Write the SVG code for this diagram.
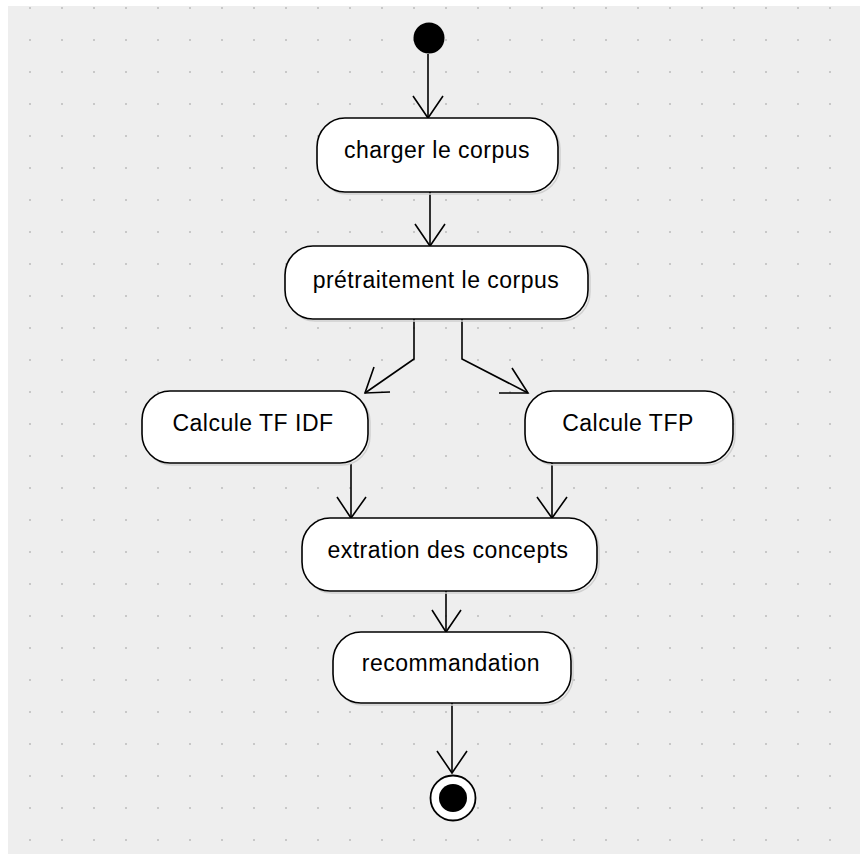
<svg xmlns="http://www.w3.org/2000/svg" width="860" height="854" viewBox="0 0 860 854">
<style>
.node{fill:#ffffff;stroke:#000000;stroke-width:1.6}
.shadow{fill:none;stroke:#d0d0d0;stroke-width:1.5}
.lbl{font-family:"Liberation Sans",Arial,sans-serif;font-size:23px;fill:#000000;text-anchor:middle;letter-spacing:0.5px}
.edge{fill:none;stroke:#000000;stroke-width:1.6}
</style>
<defs>
<pattern id="dots" patternUnits="userSpaceOnUse" x="29" y="7" width="32" height="32">
<rect x="0" y="0" width="2" height="2" fill="#c8c8c8"/>
</pattern>
</defs>
<rect x="8" y="6" width="852" height="848" fill="#eeeeee"/>
<rect x="8" y="6" width="852" height="848" fill="url(#dots)"/>

<g id="connectors">
<path class="edge" d="M428,54 V118"/>
<path class="edge" d="M413,96 L428,118 L443,96"/>
<path class="edge" d="M430,192 V246"/>
<path class="edge" d="M415,224 L430,246 L445,224"/>
<path class="edge" d="M414,319 V359 L365,393"/>
<path class="edge" d="M374,367 L365,393 L390,392"/>
<path class="edge" d="M462,319 V359 L528,393"/>
<path class="edge" d="M512,368 L528,393 L499,393"/>
<path class="edge" d="M351,463 V518"/>
<path class="edge" d="M337,497 L351,518 L366,497"/>
<path class="edge" d="M552,463 V518"/>
<path class="edge" d="M537,497 L552,518 L567,497"/>
<path class="edge" d="M446,591 V632"/>
<path class="edge" d="M432,610 L446,632 L461,610"/>
<path class="edge" d="M452,703 V773"/>
<path class="edge" d="M437,751 L452,773 L467,751"/>
</g>

<g id="start">
<circle cx="429" cy="38" r="15.5" fill="#000000"/>
</g>

<g id="charger">
<rect class="shadow" x="319" y="120" width="241" height="74" rx="28" ry="29"/>
<rect class="node" x="317" y="118" width="241" height="74" rx="28" ry="29"/>
<text class="lbl" x="437" y="158">charger le corpus</text>
</g>

<g id="pretraitement">
<rect class="shadow" x="287" y="248" width="303" height="73" rx="28" ry="29"/>
<rect class="node" x="285" y="246" width="303" height="73" rx="28" ry="29"/>
<text class="lbl" x="436" y="288">prétraitement le corpus</text>
</g>

<g id="tfidf">
<rect class="shadow" x="144" y="393" width="226" height="72" rx="28" ry="29"/>
<rect class="node" x="142" y="391" width="226" height="72" rx="28" ry="29"/>
<text class="lbl" x="253" y="431">Calcule TF IDF</text>
</g>

<g id="tfp">
<rect class="shadow" x="527" y="393" width="208" height="72" rx="28" ry="29"/>
<rect class="node" x="525" y="391" width="208" height="72" rx="28" ry="29"/>
<text class="lbl" x="628" y="431">Calcule TFP</text>
</g>

<g id="extraction">
<rect class="shadow" x="304" y="520" width="295" height="73" rx="28" ry="29"/>
<rect class="node" x="302" y="518" width="295" height="73" rx="28" ry="29"/>
<text class="lbl" x="448" y="558">extration des concepts</text>
</g>

<g id="recommandation">
<rect class="shadow" x="335" y="634" width="238" height="71" rx="28" ry="29"/>
<rect class="node" x="333" y="632" width="238" height="71" rx="28" ry="29"/>
<text class="lbl" x="451" y="671">recommandation</text>
</g>

<g id="end">
<circle cx="453" cy="798" r="22.5" fill="#ffffff" stroke="#000000" stroke-width="1.8"/>
<circle cx="453" cy="798" r="14" fill="#000000"/>
</g>
</svg>
